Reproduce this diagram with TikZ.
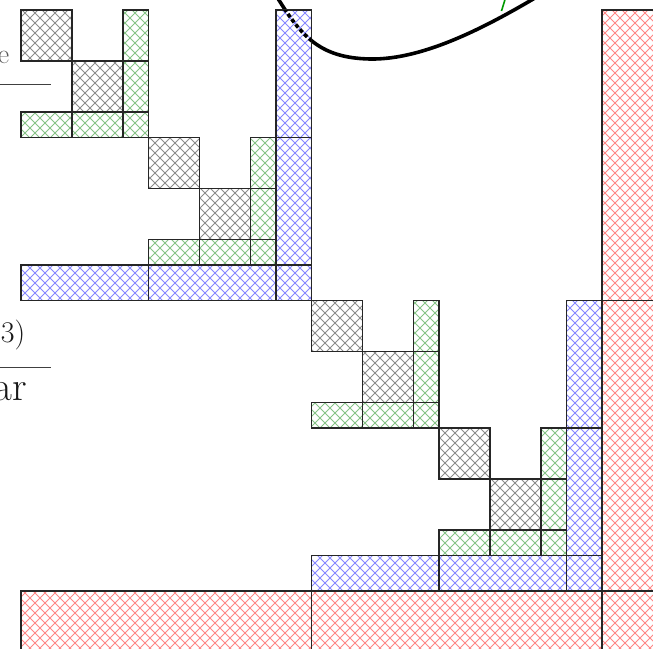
\documentclass[tikz,border=0pt]{standalone}
\usetikzlibrary{patterns}
\pgfdeclarepatternformonly{xhatch}{\pgfqpoint{-1pt}{-1pt}}{\pgfqpoint{11pt}{11pt}}{\pgfqpoint{10pt}{10pt}}{%
  \pgfsetlinewidth{0.85pt}%
  \pgfpathmoveto{\pgfqpoint{0pt}{0pt}}\pgfpathlineto{\pgfqpoint{10pt}{10pt}}%
  \pgfpathmoveto{\pgfqpoint{0pt}{10pt}}\pgfpathlineto{\pgfqpoint{10pt}{0pt}}%
  \pgfusepath{stroke}}
\definecolor{hgrey}{RGB}{140,140,140}
\definecolor{hgreen}{RGB}{135,195,135}
\definecolor{hblue}{RGB}{135,135,255}
\definecolor{hred}{RGB}{255,135,135}
\tikzset{
  cell/.style={draw=black!85, line width=1.2pt, preaction={fill=white}, pattern=xhatch, pattern color=#1},
  fracbar/.style={draw=black!75, line width=1pt},
  curveline/.style={line width=3.6pt, black, line cap=round},
}
\newcommand\LevZero[2]{%
  \path[cell=hgrey] (#1,#2) rectangle ++(51,51);
  \path[cell=hgrey] (#1+51,#2+51) rectangle ++(51,51);
  \path[cell=hgreen] (#1+102,#2) rectangle ++(25.5,51);
  \path[cell=hgreen] (#1+102,#2+51) rectangle ++(25.5,51);
  \path[cell=hgreen] (#1,#2+102) rectangle ++(51,25.5);
  \path[cell=hgreen] (#1+51,#2+102) rectangle ++(51,25.5);
  \path[cell=hgreen] (#1+102,#2+102) rectangle ++(25.5,25.5);
}
\newcommand\LevOne[2]{%
  \LevZero{#1}{#2}
  \LevZero{#1+127.5}{#2+127.5}
  \path[cell=hblue] (#1+255,#2) rectangle ++(35.5,127.5);
  \path[cell=hblue] (#1+255,#2+127.5) rectangle ++(35.5,127.5);
  \path[cell=hblue] (#1,#2+255) rectangle ++(127.5,35.5);
  \path[cell=hblue] (#1+127.5,#2+255) rectangle ++(127.5,35.5);
  \path[cell=hblue] (#1+255,#2+255) rectangle ++(35.5,35.5);
}
\begin{document}
\begin{tikzpicture}[x=1pt,y=-1pt]
\useasboundingbox (0,0) rectangle (653,648);
\begin{scope}
\clip (0,0) rectangle (653,648);
% curve behind the blocks
\draw[curveline] (274,-8) .. controls (300,35) and (318,58) .. (370,59) .. controls (425,60) and (490,25) .. (545,-8);
\draw[green!60!black, line width=1.6pt] (505.5,-2) -- (501.5,11);
% blocks
\LevOne{21}{10}
\LevOne{311.5}{300.5}
\path[cell=hred] (602,10) rectangle (670,300.5);
\path[cell=hred] (602,300.5) rectangle (670,591);
\path[cell=hred] (21,591) rectangle (311.5,670);
\path[cell=hred] (311.5,591) rectangle (602,670);
\path[cell=hred] (602,591) rectangle (670,670);
% dashed part of the curve inside the blue block
\begin{scope}
\clip (276,10) rectangle (311.5,137.5);
\draw[line width=3.6pt, black, dash pattern=on 4pt off 2.5pt] (274,-8) .. controls (300,35) and (318,58) .. (370,59);
\end{scope}
\end{scope}
% fraction fragments on the left
\node[anchor=base east, inner sep=0pt, text=black!65, font=\fontsize{28}{30}\selectfont] (numA) at (9.5,63.5) {e};
\draw[fracbar] (0,84) -- (51,84);
\node[anchor=base east, inner sep=0pt, text=black!90, font=\fontsize{30}{32}\selectfont] (numB) at (25.5,342.5) {3)};
\draw[fracbar] (0,367) -- (51,367);
\node[anchor=base east, inner sep=0pt, text=black!90, font=\fontsize{41}{43}\selectfont] (denB) at (27.5,400.5) {ar};
\end{tikzpicture}
\end{document}
